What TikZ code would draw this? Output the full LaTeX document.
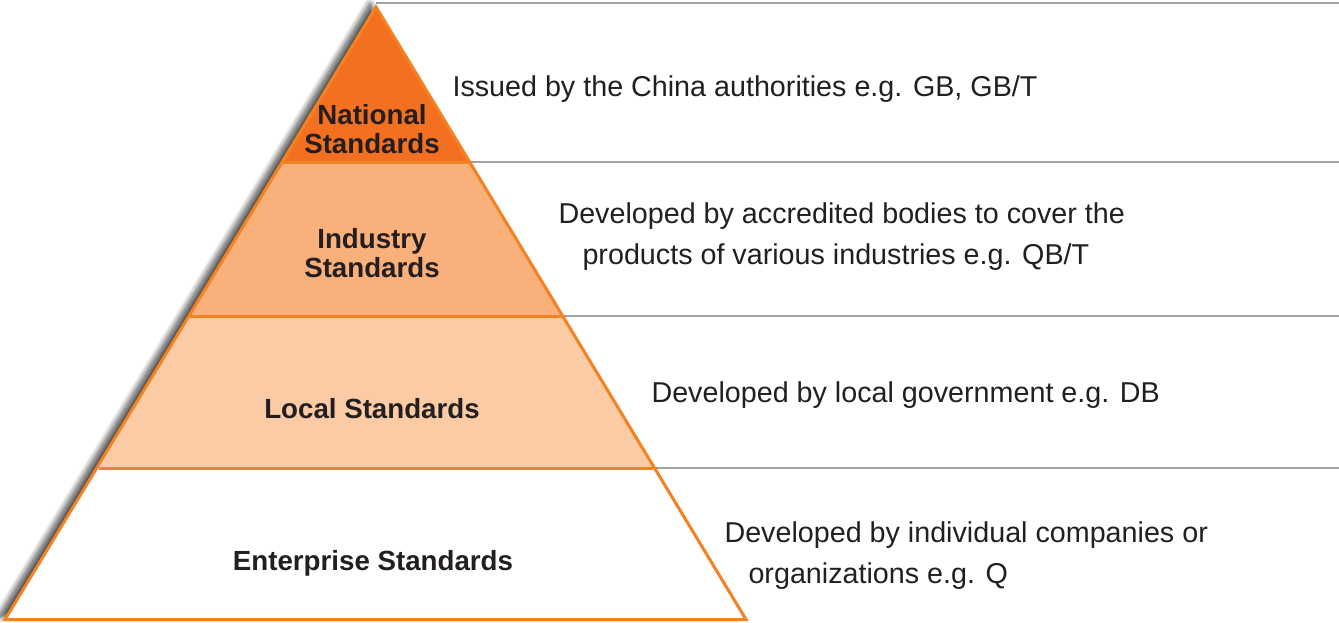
\documentclass[tikz,border=0pt]{standalone}
\usepackage{fontspec}
\setmainfont{Liberation Sans}
\usetikzlibrary{shadows.blur}
\definecolor{edgeorange}{HTML}{F58220}
\definecolor{topfill}{HTML}{F37021}
\definecolor{midfill}{HTML}{F9B07A}
\definecolor{lowfill}{HTML}{FBCBA6}
\definecolor{rulegray}{HTML}{A3A3A3}
\definecolor{ink}{HTML}{231F20}
\tikzset{
  tier/.style={font=\fontsize{27.7}{29.5}\selectfont\bfseries, text=ink, align=center},
  note/.style={font=\fontsize{28.7}{41}\selectfont, text=ink, align=left, anchor=west},
  rule/.style={draw=rulegray, line width=1.4pt},
  band/.style={draw=edgeorange, line width=3pt, line join=miter},
}
\begin{document}
\begin{tikzpicture}[x=1pt, y=-1pt]
\useasboundingbox (0,0) rectangle (1339,622);
% pyramid corners and tier boundaries on both flanks
\coordinate (apex) at (376,7);
\coordinate (bl) at (5,619.5);
\coordinate (br) at (746,619.5);
\coordinate (l1) at (282.5,162);  \coordinate (r1) at (469.5,162);
\coordinate (l2) at (189.5,316);  \coordinate (r2) at (562.5,316);
\coordinate (l3) at (99,468);     \coordinate (r3) at (653,468);
% grey rules running out to the right
\draw[rule] (apex |- 0,3) -- (1339,3);
\draw[rule] (r1) -- (1339,162);
\draw[rule] (r2) -- (1339,316);
\draw[rule] (r3) -- (1339,468);
% pyramid body with soft shadow
\path[fill=white, blur shadow={shadow xshift=-6pt, shadow yshift=3pt, shadow blur radius=6pt, shadow blur steps=14, shadow opacity=75}]
  (apex) -- (bl) -- (br) -- cycle;
% tiers
\fill[topfill] (apex) -- (l1) -- (r1) -- cycle;
\fill[midfill] (l1) -- (l2) -- (r2) -- (r1) -- cycle;
\fill[lowfill] (l2) -- (l3) -- (r3) -- (r2) -- cycle;
\draw[band] (l1) -- (r1);
\draw[band] (l2) -- (r2);
\draw[band] (l3) -- (r3);
\draw[band] (apex) -- (bl) -- (br) -- cycle;
% tier names
\node[tier] (national) at (372,129) {National\\Standards};
\node[tier] (industry) at (372,253) {Industry\\Standards};
\node[tier] (local) at (372,409) {Local Standards};
\node[tier] (enterprise) at (373,563) {Enterprise Standards};
% descriptions
\node[note] (natdesc) at (449,89) {Issued by the China authorities e.g. GB, GB/T};
\node[note] (inddesc) at (555,237) {Developed by accredited bodies to cover the\\\hspace*{24pt}products of various industries e.g. QB/T};
\node[note] (locdesc) at (648,395) {Developed by local government e.g. DB};
\node[note] (entdesc) at (721,556) {Developed by individual companies or\\\hspace*{24pt}organizations e.g. Q};
\end{tikzpicture}
\end{document}
